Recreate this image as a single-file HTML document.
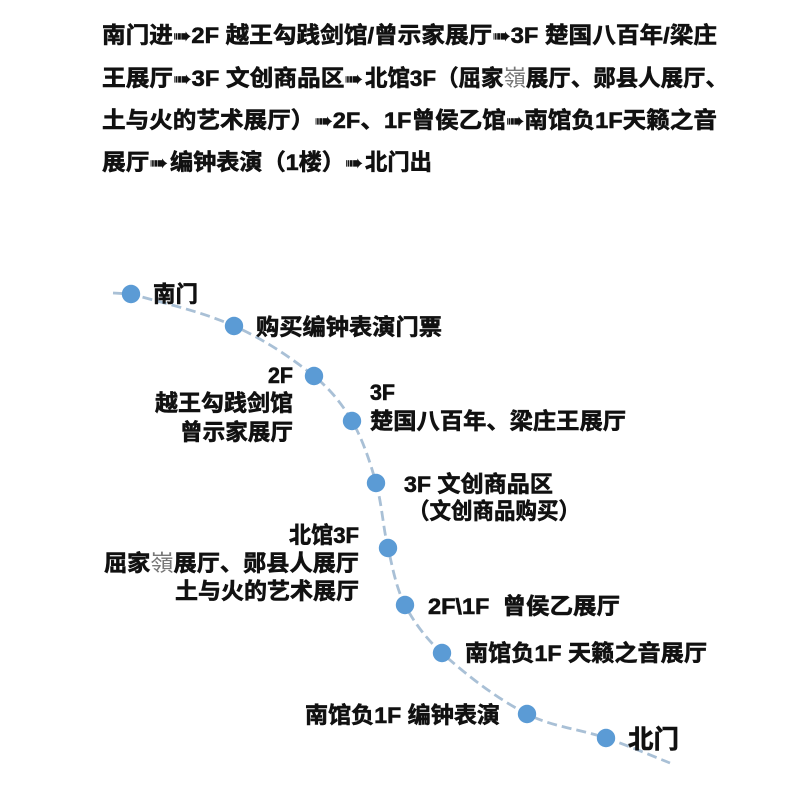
<!DOCTYPE html>
<html lang="zh">
<head>
<meta charset="utf-8">
<title>路线图</title>
<style>
html,body{margin:0;padding:0;background:#fff;width:800px;height:800px;overflow:hidden}
svg{display:block;filter:blur(.35px)}
text{font-family:"Liberation Sans","Noto Sans CJK SC",sans-serif;font-weight:700;font-size:22.5px;fill:#111;stroke:#111;stroke-width:.6px;white-space:pre}
.a{font-family:"DejaVu Sans",sans-serif;font-size:21px;font-weight:400;stroke-width:.3px}
.t{font-weight:400;fill:#777;stroke:none}
</style>
</head>
<body>
<svg width="800" height="800" viewBox="0 0 800 800" xmlns="http://www.w3.org/2000/svg">
<text x="102" y="43" textLength="615" lengthAdjust="spacingAndGlyphs">南门进<tspan class="a">➠</tspan>2F 越王勾践剑馆/曾示家展厅<tspan class="a">➠</tspan>3F 楚国八百年/梁庄</text>
<text x="102" y="86" textLength="261" lengthAdjust="spacingAndGlyphs">王展厅<tspan class="a">➠</tspan>3F 文创商品区<tspan class="a">➠</tspan></text>
<text x="365" y="86" textLength="363" lengthAdjust="spacingAndGlyphs">北馆3F（屈家<tspan class="t">嶺</tspan>展厅、郧县人展厅、</text>
<text x="102" y="128" textLength="615" lengthAdjust="spacingAndGlyphs">土与火的艺术展厅）<tspan class="a">➠</tspan>2F、1F曾侯乙馆<tspan class="a">➠</tspan>南馆负1F天籁之音</text>
<text x="102" y="170" textLength="66" lengthAdjust="spacingAndGlyphs">展厅<tspan class="a">➠</tspan></text>
<text x="170" y="170" textLength="193" lengthAdjust="spacingAndGlyphs">编钟表演（1楼）<tspan class="a">➠</tspan></text>
<text x="365" y="170" textLength="67" lengthAdjust="spacingAndGlyphs">北门出</text>
<path d="M113 293 L131 294 C165.6 303.7 201.1 311.3 234 326 C262.3 338.6 289.8 356.5 314 376 C329.6 388.6 342 403.7 352 421 C363 440 370 461.8 376 483 C382 504.2 382.9 526.6 388 548 C392.6 567.5 395.9 587.2 405 605 C414.1 622.8 427.1 639.7 442 653 C468.1 676.3 495.9 697.9 527 714 C551.9 726.9 579.5 728.9 606 738 C627.8 745.5 650 755 670 763" fill="none" stroke="#a9c0d6" stroke-width="2.8" stroke-dasharray="10 5"/>
<g fill="#5b9bd5">
<circle cx="131" cy="294" r="9.2"/>
<circle cx="234" cy="326" r="9.2"/>
<circle cx="314" cy="376" r="9.2"/>
<circle cx="352" cy="421" r="9.2"/>
<circle cx="376" cy="483" r="9.2"/>
<circle cx="388" cy="548" r="9.2"/>
<circle cx="405" cy="605" r="9.2"/>
<circle cx="442" cy="653" r="9.2"/>
<circle cx="527" cy="714" r="9.2"/>
<circle cx="606" cy="738" r="9.2"/>
</g>
<text x="153" y="302" textLength="45" lengthAdjust="spacingAndGlyphs">南门</text>
<text x="256" y="335" textLength="186" lengthAdjust="spacingAndGlyphs">购买编钟表演门票</text>
<text x="268" y="383" textLength="25" lengthAdjust="spacingAndGlyphs">2F</text>
<text x="155" y="411" textLength="138" lengthAdjust="spacingAndGlyphs">越王勾践剑馆</text>
<text x="180" y="440" textLength="113" lengthAdjust="spacingAndGlyphs">曾示家展厅</text>
<text x="370" y="400" textLength="25" lengthAdjust="spacingAndGlyphs">3F</text>
<text x="370" y="429" textLength="256" lengthAdjust="spacingAndGlyphs">楚国八百年、梁庄王展厅</text>
<text x="404" y="492" textLength="149" lengthAdjust="spacingAndGlyphs">3F 文创商品区</text>
<text x="408" y="519" textLength="172" lengthAdjust="spacingAndGlyphs">（文创商品购买）</text>
<text x="289" y="543" textLength="70" lengthAdjust="spacingAndGlyphs">北馆3F</text>
<text x="104" y="571" textLength="255" lengthAdjust="spacingAndGlyphs">屈家<tspan class="t">嶺</tspan>展厅、郧县人展厅</text>
<text x="175" y="599" textLength="184" lengthAdjust="spacingAndGlyphs">土与火的艺术展厅</text>
<text x="428" y="614" textLength="192" lengthAdjust="spacingAndGlyphs">2F\1F  曾侯乙展厅</text>
<text x="465" y="661" textLength="242" lengthAdjust="spacingAndGlyphs">南馆负1F 天籁之音展厅</text>
<text x="305" y="723" textLength="195" lengthAdjust="spacingAndGlyphs">南馆负1F 编钟表演</text>
<text x="628" y="748" textLength="51" lengthAdjust="spacingAndGlyphs" style="font-size:25.5px">北门</text>
</svg>
</body>
</html>
